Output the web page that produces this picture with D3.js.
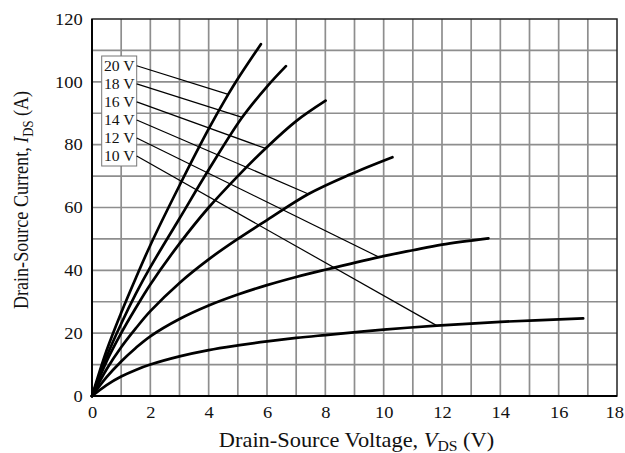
<!DOCTYPE html>
<html><head><meta charset="utf-8">
<script src="https://cdn.jsdelivr.net/npm/d3@7"></script>
<style>html,body{margin:0;padding:0;background:#fff;}svg{display:block;}</style>
</head><body>
<script>
// ---- data ----
const gateLabels = ["20 V", "18 V", "16 V", "14 V", "12 V", "10 V"];
const curve20 = [[0,0],[0.5,14.5],[1,26.5],[1.5,37.5],[2,48],[3,67],[4,85],[4.67,96],[5,101],[5.79,112]];
const curve18 = [[0,0],[0.5,12.5],[1,23],[1.5,32.5],[2,41],[3,56.5],[4,72],[5.15,88.7],[6,98.5],[6.65,105]];
const curve16 = [[0,0],[0.5,11],[1,20],[1.5,28],[2,35.5],[3,48.5],[4,60],[5,70],[5.95,78.8],[7,87.5],[8.01,94]];
const curve14 = [[0,0],[0.5,8.5],[1,15.5],[1.5,21.5],[2,27],[3,36],[4,43.5],[5,50],[6,56],[7.42,64.3],[8.84,70.5],[10.3,76]];
const curve12 = [[0,0],[0.5,6],[1,11],[1.5,15.3],[2,19],[3,24.5],[4,28.8],[5,32.3],[6,35.3],[7,37.9],[8,40.2],[9.84,44.2],[11,46.4],[12,48.2],[13.59,50.2]];
const curve10 = [[0,0],[0.5,3.5],[1,6.2],[1.5,8.3],[2,10],[3,12.6],[4,14.6],[5,16.1],[6,17.4],[7,18.5],[8,19.4],[10,21.1],[11.82,22.4],[14,23.6],[16.84,24.7]];
const leaderEnds = [[4.67,96],[5.15,88.7],[5.95,78.8],[7.42,64.3],[9.84,44.2],[11.82,22.4]];
const xTicks = [0,2,4,6,8,10,12,14,16,18];
const yTicks = [0,20,40,60,80,100,120];

const curves = [curve20, curve18, curve16, curve14, curve12, curve10];

// ---- layout ----
const W = 625, H = 453;
const L = 92, R = 617, T = 19, B = 396;
const x = d3.scaleLinear().domain([0,18]).range([L,R]);
const y = d3.scaleLinear().domain([0,120]).range([B,T]);

const svg = d3.select("body").append("svg").attr("width",W).attr("height",H);
const font = "'Liberation Serif', 'Times New Roman', serif";
const SX = 1.12;

// grid
const g = svg.append("g");
g.selectAll(".vg").data(d3.range(1,18)).join("line")
  .attr("x1",d=>x(d)).attr("x2",d=>x(d)).attr("y1",T).attr("y2",B)
  .attr("stroke","#8e8e8e").attr("stroke-width",1.7);
g.selectAll(".hg").data(d3.range(10,120,10)).join("line")
  .attr("x1",L).attr("x2",R).attr("y1",d=>y(d)).attr("y2",d=>y(d))
  .attr("stroke","#8e8e8e").attr("stroke-width",1.7);

// frame
svg.append("rect").attr("x",L).attr("y",T).attr("width",R-L).attr("height",B-T)
  .attr("fill","none").attr("stroke","#222").attr("stroke-width",1.5);
svg.append("line").attr("x1",L).attr("x2",R).attr("y1",B).attr("y2",B).attr("stroke","#000").attr("stroke-width",1.9);
svg.append("line").attr("x1",L).attr("x2",L).attr("y1",T).attr("y2",B).attr("stroke","#000").attr("stroke-width",1.9);

// axes (tick labels only)
const xAxis = d3.axisBottom(x).tickValues(xTicks).tickSize(0).tickPadding(10).tickFormat(d3.format("d"));
const xa = svg.append("g").attr("transform",`translate(0,${B})`).call(xAxis);
xa.select(".domain").remove();
xa.selectAll("text").attr("font-family",font).attr("font-size",16.5).attr("fill","#111")
  .attr("transform",`scale(${SX},1)`)
  .attr("dx",d=>d===18?-2.5:0);
const yAxis = d3.axisLeft(y).tickValues(yTicks).tickSize(0).tickPadding(8.3).tickFormat(d3.format("d"));
const ya = svg.append("g").attr("transform",`translate(${L},0)`).call(yAxis);
ya.select(".domain").remove();
ya.selectAll("text").attr("font-family",font).attr("font-size",16.5).attr("fill","#111")
  .attr("transform",`scale(${SX},1)`);

// label box
const boxX = 101.7, boxY = 56, boxW = 35, boxH = 110, rowH = 18.05, row0 = 65.8;
svg.append("rect").attr("x",boxX).attr("y",boxY).attr("width",boxW).attr("height",boxH)
  .attr("fill","#fff").attr("stroke","#777").attr("stroke-width",1);

// leader lines
svg.selectAll(".leader").data(leaderEnds).join("line")
  .attr("x1",boxX+boxW).attr("y1",(d,i)=>row0+i*rowH)
  .attr("x2",d=>x(d[0])).attr("y2",d=>y(d[1]))
  .attr("stroke","#000").attr("stroke-width",1.2);

// curves
const line = d3.line().x(d=>x(d[0])).y(d=>y(d[1])).curve(d3.curveCatmullRom.alpha(0.5));
svg.selectAll(".curve").data(curves).join("path")
  .attr("d",line).attr("fill","none").attr("stroke","#000").attr("stroke-width",2.7).attr("stroke-linecap","round");

svg.selectAll(".lbl").data(gateLabels).join("text")
  .attr("transform",(d,i)=>`translate(${boxX+2.2},${row0+i*rowH}) scale(1.12,1)`)
  .attr("dy","0.35em")
  .attr("font-family",font).attr("font-size",14).attr("fill","#111").text(d=>d);

// axis titles
const xt = svg.append("text").attr("transform",`translate(356.5,447.3) scale(${SX},1)`).attr("text-anchor","middle")
  .attr("font-family",font).attr("font-size",20).attr("fill","#111");
xt.append("tspan").text("Drain-Source Voltage, ");
xt.append("tspan").attr("font-style","italic").text("V");
xt.append("tspan").attr("font-size",14).attr("dy",4).text("DS");
xt.append("tspan").attr("dy",-4).text(" (V)");

const yt = svg.append("text").attr("transform",`translate(28.3,200) rotate(-90) scale(0.905,1)`).attr("text-anchor","middle")
  .attr("font-family",font).attr("font-size",20).attr("fill","#111");
yt.append("tspan").text("Drain-Source Current, ");
yt.append("tspan").attr("font-style","italic").text("I");
yt.append("tspan").attr("font-size",14).attr("dy",5).text("DS");
yt.append("tspan").attr("dy",-5).text(" (A)");
</script>
</body></html>
